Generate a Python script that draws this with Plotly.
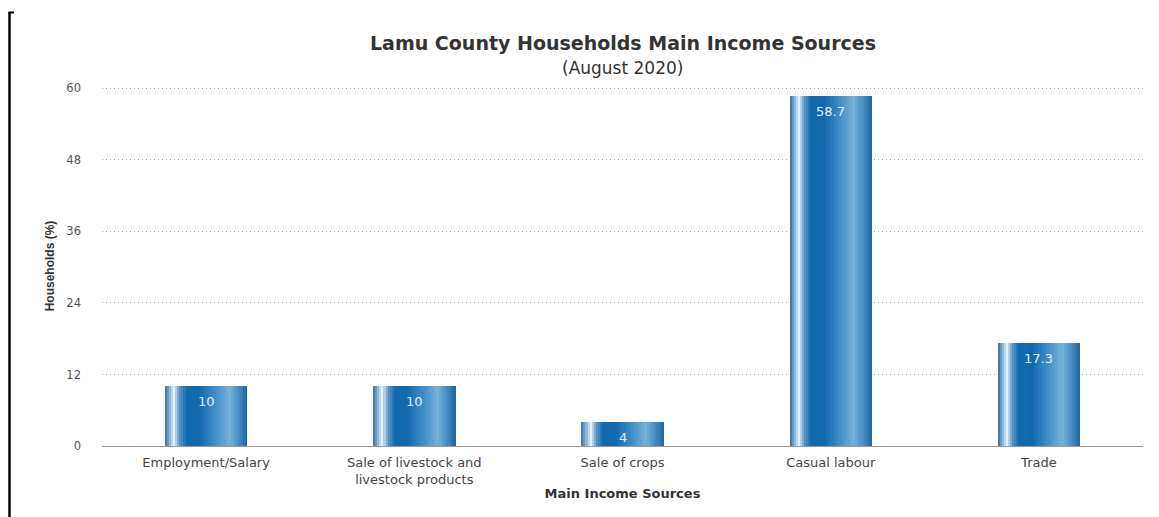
import plotly.graph_objects as go

categories = ["Employment/Salary", "Sale of livestock and<br>livestock products",
              "Sale of crops", "Casual labour", "Trade"]
values = [10, 10, 4, 58.7, 17.3]
labels = ["10", "10", "4", "58.7", "17.3"]
y_ticks = [0, 12, 24, 36, 48, 60]

# horizontal gradient stops across a bar (position 0..1, rgb)
stops = [(0.00, (42, 110, 168)), (0.05, (120, 170, 210)), (0.11, (232, 243, 250)),
         (0.18, (90, 150, 200)), (0.26, (20, 108, 176)), (0.40, (14, 102, 172)),
         (0.60, (60, 140, 200)), (0.78, (118, 178, 220)), (0.90, (70, 140, 195)),
         (1.00, (30, 100, 160))]

def color_at(t):
    for (p0, c0), (p1, c1) in zip(stops[:-1], stops[1:]):
        if p0 <= t <= p1:
            f = (t - p0) / (p1 - p0)
            c = [round(a + (b - a) * f) for a, b in zip(c0, c1)]
            return f"rgb({c[0]},{c[1]},{c[2]})"
    return "rgb(30,100,160)"

x_idx = list(range(len(categories)))
bar_w = 0.395
n = 40
sw = bar_w / n

fig = go.Figure()
for i in range(n):
    t = (i + 0.5) / n
    fig.add_trace(go.Bar(
        x=x_idx, y=values, width=sw * 1.05, offset=-bar_w / 2 + i * sw,
        marker=dict(color=color_at(t), line=dict(width=0)),
        hoverinfo="skip", showlegend=False))

for xi, v, lab in zip(x_idx, values, labels):
    fig.add_annotation(x=xi, y=v, text=lab, showarrow=False, yanchor="top", yshift=-6,
                       font=dict(family="DejaVu Sans, Verdana, sans-serif", size=13, color="#e4f0fa"))

T, B = 86, 71
ph = 517 - T - B
pw = 1159 - 102 - 16
def px_x(p):
    return (p - 102) / pw
def px_y(p):
    return (517 - B - p) / ph

fig.update_layout(
    width=1159, height=517,
    margin=dict(l=102, r=16, t=T, b=B),
    paper_bgcolor="white", plot_bgcolor="white",
    barmode="overlay", bargap=0,
    font=dict(family="DejaVu Sans, Verdana, sans-serif", color="#444"),
    xaxis=dict(
        tickmode="array", tickvals=x_idx, ticktext=categories,
        range=[-0.5, 4.5], showgrid=False, ticks="outside", ticklen=4, tickcolor="rgba(0,0,0,0)",
        zeroline=False,
        tickfont=dict(size=13, color="#444"),
        title=dict(text="<b>Main Income Sources</b>", font=dict(size=13, color="#333"), standoff=3),
        showline=False),
    yaxis=dict(
        range=[0, 60.4], tickmode="array", tickvals=y_ticks,
        showgrid=True, gridcolor="#a8a8a8", griddash="1px,3px", gridwidth=1,
        zeroline=True, zerolinecolor="#999", zerolinewidth=1,
        tickfont=dict(size=11.5, color="#555"), ticks="", ticklabelstandoff=20,
        title=dict(text="<b>Households (%)</b>",
                   font=dict(family="Liberation Sans Narrow, Liberation Sans, Arial", size=12, color="#333"),
                   standoff=9)),
)

fig.add_annotation(text="<b>Lamu County Households Main Income Sources</b>", x=0.5, y=px_y(43),
                   xref="paper", yref="paper", showarrow=False, yanchor="middle",
                   font=dict(size=19, color="#333"))
fig.add_annotation(text="(August 2020)", x=0.5, y=px_y(68),
                   xref="paper", yref="paper", showarrow=False, yanchor="middle",
                   font=dict(size=17, color="#333"))

# scanned-page bracket on the left
fig.add_shape(type="line", xref="paper", yref="paper",
              x0=px_x(9.5), x1=px_x(9.5), y0=px_y(12), y1=px_y(517),
              line=dict(color="black", width=2.5))
fig.add_shape(type="line", xref="paper", yref="paper",
              x0=px_x(8.5), x1=px_x(14), y0=px_y(12.5), y1=px_y(12.5),
              line=dict(color="black", width=2))

fig.write_html("out.html")
